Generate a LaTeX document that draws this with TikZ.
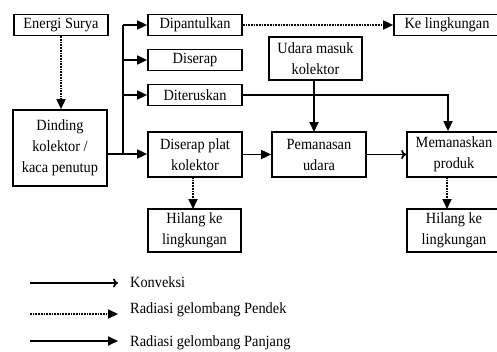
\documentclass[tikz,border=0pt]{standalone}
\usepackage{fontspec}
\setmainfont{Liberation Serif}[FakeStretch=0.92]
\usetikzlibrary{arrows.meta}
\begin{document}
\begin{tikzpicture}[x=1pt,y=-1pt,
  box/.style={draw,line width=1.7pt,inner sep=0pt,align=center,
    font=\fontsize{15.6}{21}\selectfont},
  txt/.style={inner sep=0pt,anchor=west,font=\fontsize{15.6}{21}\selectfont},
  ln/.style={line width=1.7pt},
  fa/.style={ln,-{Triangle[length=10pt,width=9pt]}},
  da/.style={ln,densely dotted,-{Triangle[length=10pt,width=9pt]}},
  oa/.style={ln,-{To[length=5pt,width=9pt]}}]
\useasboundingbox (0,0) rectangle (497,351);
\clip (0,0) rectangle (497,351);
\node[box,minimum width=94pt,minimum height=21pt] (es) at (61,25) {Energi Surya};
\node[box,minimum width=94pt,minimum height=76pt] (dk) at (60,148) {Dinding\\kolektor /\\kaca penutup};
\node[box,minimum width=94pt,minimum height=21pt] (dp) at (195,25) {Dipantulkan};
\node[box,minimum width=94pt,minimum height=21pt] (ds) at (195,60) {Diserap};
\node[box,minimum width=94pt,minimum height=21pt] (dt) at (195,95) {Diteruskan};
\node[box,minimum width=94pt,minimum height=45pt] (dpk) at (195,154.5) {Diserap plat\\kolektor};
\node[box,minimum width=106pt,minimum height=21pt] (kl) at (447,25) {Ke lingkungan};
\node[box,minimum width=93pt,minimum height=43pt] (um) at (315.5,58.5) {Udara masuk\\kolektor};
\node[box,minimum width=94pt,minimum height=45pt] (pu) at (319,154.5) {Pemanasan\\udara};
\node[box,minimum width=94pt,minimum height=45pt] (mp) at (454,154.5) {Memanaskan\\produk};
\node[box,minimum width=93pt,minimum height=43pt] (h1) at (194.5,230.5) {Hilang ke\\lingkungan};
\node[box,minimum width=94pt,minimum height=43pt] (h2) at (454,230.5) {Hilang ke\\lingkungan};
% connectors
\draw[da] (es.south) -- (es.south |- dk.north);
\coordinate (br) at (123,154);
\coordinate (brt) at (123,25);
\draw[ln] (dk.east |- br) -- (br);
\draw[ln] (brt) -- (br);
\draw[fa] (br) -- (dpk.west |- br);
\draw[fa] (brt) -- (dp.west);
\draw[fa] (brt |- ds.west) -- (ds.west);
\draw[fa] (brt |- dt.west) -- (dt.west);
\draw[da] (dp.east) -- (kl.west);
\coordinate (tk) at (448,95);
\draw[fa] (dt.east) -- (tk) -- (tk |- mp.north);
\draw[fa] (314,80) -- (314,132);
\draw[fa] (dpk.east) -- (pu.west);
\draw[oa] (pu.east) -- (mp.west);
\draw[da] (193,177) -- (193,209);
\draw[da] (447,177) -- (447,209);
% legend
\coordinate (l1a) at (30,283); \coordinate (l1b) at (118,283);
\coordinate (l2a) at (30,314); \coordinate (l2b) at (118,314);
\coordinate (l3a) at (30,341); \coordinate (l3b) at (118,341);
\draw[oa] (l1a) -- (l1b);
\draw[da] (l2a) -- (l2b);
\draw[fa] (l3a) -- (l3b);
\node[txt] (t1) at (130,282) {Konveksi};
\node[txt] (t2) at (130,310) {Radiasi gelombang Pendek};
\node[txt] (t3) at (130,343) {Radiasi gelombang Panjang};
\end{tikzpicture}
\end{document}
